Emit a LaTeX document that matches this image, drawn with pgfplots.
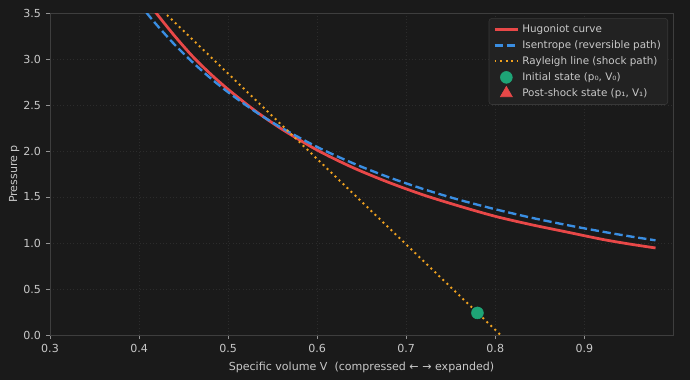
\documentclass[border=0pt]{standalone}
\usepackage{fontspec}
\setmainfont{DejaVu Sans}
\usepackage{pgfplots}
\pgfplotsset{compat=1.18}
\definecolor{bg}{RGB}{26,26,26}
\definecolor{legbg}{RGB}{34,34,34}
\definecolor{legdraw}{RGB}{56,56,56}
\definecolor{gridc}{RGB}{44,44,44}
\definecolor{spine}{RGB}{62,62,62}
\definecolor{txt}{RGB}{200,200,200}
\definecolor{redc}{RGB}{232,72,72}
\definecolor{bluec}{RGB}{58,142,226}
\definecolor{orangec}{RGB}{240,162,32}
\definecolor{greenc}{RGB}{30,164,118}
\begin{document}
\begin{tikzpicture}
\fill[bg] (-0.5in,-0.45in) rectangle (6.4in,3.35in);
\useasboundingbox (-0.5in,-0.45in) rectangle (6.4in,3.35in);
\begin{axis}[
  at={(0,0)}, anchor=south west, scale only axis,
  width=6.23in, height=3.22in,
  xmin=0.3, xmax=0.9996, ymin=0, ymax=3.5,
  xtick={0.3,0.4,0.5,0.6,0.7,0.8,0.9},
  ytick={0,0.5,1,1.5,2,2.5,3,3.5},
  /pgf/number format/assume math mode=true,
  /pgf/number format/.cd, fixed, fixed zerofill, precision=1, /pgfplots/.cd,
  tick label style={font=\fontsize{8}{9.6}\selectfont, text=txt},
  label style={font=\fontsize{8}{9.6}\selectfont, text=txt},
  xlabel={Specific volume V\ \ (compressed ← → expanded)},
  ylabel={Pressure p},
  ylabel style={yshift=-4pt},
  axis line style={draw=spine},
  tick align=outside, major tick length=3pt,
  tick style={draw=txt!70!bg, line width=0.5pt},
  xtick pos=bottom, ytick pos=left,
  grid=major,
  major grid style={draw=gridc, dotted, line width=0.5pt},
  legend cell align=left,
  legend style={at={(0.992,0.984)}, anchor=north east, fill=legbg, draw=legdraw,
    rounded corners=2pt, text=txt, font=\fontsize{7.5}{8.5}\selectfont,
    inner xsep=3pt, inner ysep=2.5pt, row sep=0.3pt},
]
\addplot[redc, line width=2pt, smooth] coordinates {
(0.40,3.76) (0.41,3.62) (0.42,3.49) (0.44,3.25) (0.46,3.03) (0.48,2.84)
(0.50,2.67) (0.53,2.44) (0.56,2.24) (0.60,2.01) (0.64,1.82) (0.68,1.66)
(0.72,1.52) (0.76,1.40) (0.80,1.29) (0.84,1.20) (0.88,1.12) (0.92,1.04)
(0.95,0.99) (0.98,0.946)};
\addlegendentry{Hugoniot curve}
\addplot[bluec, line width=1.7pt, dash pattern=on 6pt off 2.7pt, smooth] coordinates {
(0.40,3.607) (0.41,3.484) (0.42,3.369) (0.44,3.156) (0.46,2.966) (0.48,2.794)
(0.50,2.639) (0.53,2.432) (0.56,2.252) (0.60,2.044) (0.64,1.868) (0.68,1.716)
(0.72,1.584) (0.76,1.468) (0.80,1.367) (0.84,1.276) (0.88,1.196) (0.92,1.124)
(0.95,1.074) (0.98,1.029)};
\addlegendentry{Isentrope (reversible path)}
\addplot[orangec, line width=1.4pt, dash pattern=on 1.4pt off 2.6pt] coordinates {
(0.40,3.77) (0.82,-0.13)};
\addlegendentry{Rayleigh line (shock path)}
\addplot[only marks, mark=*, mark size=4.3pt, mark options={fill=greenc, draw=greenc}] coordinates {(0.78,0.24)};
\addlegendentry{Initial state (p₀, V₀)}
\addlegendimage{only marks, mark=triangle*, mark size=5pt, mark options={fill=redc, draw=redc}}
\addlegendentry{Post-shock state (p₁, V₁)}
\end{axis}
\end{tikzpicture}
\end{document}
